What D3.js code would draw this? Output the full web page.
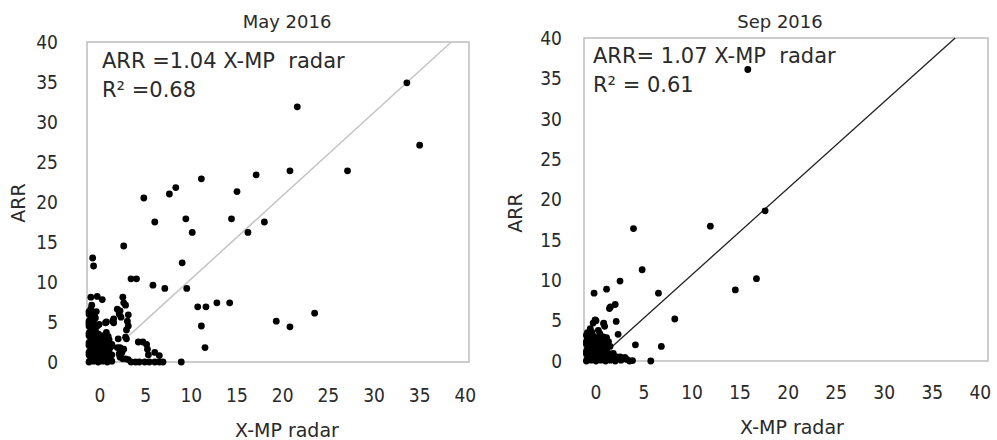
<!DOCTYPE html>
<html>
<head>
<meta charset="utf-8">
<script src="https://cdn.jsdelivr.net/npm/d3@7"></script>
<style>
  body { margin: 0; background: #fff; }
  svg text { font-family: "DejaVu Sans", sans-serif; fill: #2a2a2a; }
  svg text.tick { font-family: "DejaVu Sans Condensed", "DejaVu Sans", sans-serif; font-stretch: condensed; }
</style>
</head>
<body>
<script>
const ticks = [0, 5, 10, 15, 20, 25, 30, 35, 40];
const titles = ["May 2016", "Sep 2016"];
const eqLabels = ["ARR =1.04 X-MP  radar", "ARR= 1.07 X-MP  radar"];
const r2Labels = ["R\u00b2 =0.68", "R\u00b2 = 0.61"];
const slopes = [1.04, 1.07];
const fitStart = [3.2, 1.4];

const mayPoints = [
  [33.6, 34.9], [21.6, 31.9], [35.0, 27.1], [27.1, 23.9], [20.8, 23.9], [17.1, 23.4],
  [11.1, 22.9], [15.0, 21.3], [8.3, 21.8], [7.6, 21.0], [4.8, 20.5], [6.0, 17.5],
  [9.4, 17.9], [14.4, 17.9], [18.0, 17.5], [10.1, 16.2], [16.2, 16.2], [2.6, 14.5],
  [9.0, 12.4], [-0.8, 13.0], [-0.7, 12.0], [3.4, 10.4], [4.0, 10.4], [5.8, 9.6],
  [7.1, 9.2], [9.5, 9.2], [10.7, 6.9], [11.6, 6.9], [12.8, 7.4], [14.2, 7.4],
  [23.5, 6.1], [19.3, 5.1], [20.8, 4.4], [11.1, 4.5], [11.5, 1.8], [8.9, 0],
  [-1.0, 8.1], [-0.3, 8.2], [0.25, 7.8], [2.5, 8.1], [2.6, 7.4], [2.8, 7.1],
  [-0.9, 7.1], [2.2, 6.4], [1.9, 6.6], [2.1, 6.0], [3.1, 5.9], [2.3, 5.6],
  [1.5, 5.4], [1.5, 4.9], [1.4, 5.1], [0.7, 5.0], [0.6, 4.9], [3.0, 5.1],
  [3.1, 4.5], [2.9, 4.0], [0.7, 3.7], [0.9, 3.2], [2.0, 2.9], [2.9, 2.9],
  [2.8, 3.1], [4.2, 2.5], [4.7, 2.5], [5.1, 2.2], [5.2, 1.6], [5.3, 0.9],
  [6.0, 1.2], [6.5, 0.8], [2.2, 1.8], [1.9, 1.8], [2.6, 1.6], [1.1, 2.0],
  [2.4, 1.2], [2.1, 1.0], [2.2, 0.6], [2.5, 0.4], [2.8, 0.4], [3.1, 0.3],
  [3.4, 0], [3.9, 0], [4.3, 0], [4.9, 0], [5.4, 0], [6.0, 0], [6.5, 0], [6.9, 0],
  [-1.2, 0], [-0.7, 0.1], [-0.2, 0], [0.3, 0.1], [0.8, 0], [1.3, 0.1],
  [-1.0, 0.3], [-0.5, 0.3], [0.0, 0.4], [0.5, 0.3], [1.0, 0.3],
  [-1.0, 0.6], [-0.4, 0.7], [0.1, 0.5], [0.6, 0.6], [1.1, 0.7],
  [-1.2, 0.9], [-0.7, 0.9], [-0.2, 0.9], [0.3, 0.9], [0.8, 0.9], [1.3, 0.9],
  [-1.2, 1.2], [-0.7, 1.3], [-0.1, 1.1], [0.4, 1.2], [0.9, 1.3],
  [-1.0, 1.5], [-0.5, 1.5], [0.0, 1.5], [0.5, 1.5], [1.0, 1.5],
  [-1.0, 1.8], [-0.5, 1.9], [0.1, 1.7], [0.6, 1.8], [1.2, 1.9],
  [-1.2, 2.1], [-0.7, 2.1], [-0.2, 2.1], [0.3, 2.1], [0.8, 2.1], [1.3, 2.2],
  [-1.2, 2.4], [-0.7, 2.5], [-0.2, 2.3], [0.3, 2.4], [0.9, 2.5],
  [-1.0, 2.7], [-0.5, 2.7], [0.0, 2.7], [0.5, 2.7], [1.0, 2.8],
  [-1.0, 3.0], [-0.5, 3.1], [0.1, 2.9], [0.5, 3.0],
  [-1.2, 3.3], [-0.8, 3.3], [-0.3, 3.3], [0.2, 3.3],
  [-1.2, 3.6], [-0.7, 3.7], [-0.2, 3.5],
  [-1.0, 3.9], [-0.5, 3.9],
  [-1.0, 4.2], [-0.5, 4.3],
  [-1.2, 4.5], [-0.8, 4.5], [-0.3, 4.5],
  [-1.2, 4.8], [-0.7, 4.9], [-0.1, 4.7],
  [-1.2, 5.1], [-0.8, 5.1],
  [-1.0, 5.4], [-0.5, 5.5],
  [-1.0, 5.7], [-0.6, 5.7],
  [-1.2, 6.0], [-0.7, 6.1], [-1.2, 6.3], [-1.0, 6.6], [-0.4, 6.3]
];

const sepPoints = [
  [15.8, 36.1], [17.6, 18.6], [11.9, 16.7], [3.9, 16.4], [4.8, 11.3], [2.5, 9.9],
  [1.1, 8.9], [-0.2, 8.4], [6.5, 8.4], [14.5, 8.8], [16.7, 10.2], [2.0, 7.0],
  [1.5, 6.7], [1.4, 6.5], [8.2, 5.2], [2.1, 4.9], [0, 5.0], [0.8, 4.6],
  [2.3, 3.3], [4.1, 2.0], [6.8, 1.8], [5.7, 0], [3.8, 0.05], [3.2, 0.2],
  [3.0, 0.45], [2.5, 0.5], [-0.1, 5.1], [-0.3, 4.7], [0.8, 4.7], [0.9, 4.3],
  [-0.6, 4.0], [-0.45, 3.6], [0.24, 3.8], [0.4, 3.4], [0.76, 3.0], [0.94, 2.6],
  [1.1, 2.9], [1.3, 2.4], [1.46, 1.8], [1.8, 0.95], [2.15, 0.5], [3.5, 0], [2.6, 0.1],
  [-1.0, 0], [-0.5, 0.1], [0, 0], [0.5, 0.1], [1.0, 0], [1.5, 0.1], [2.0, 0],
  [-0.9, 0.3], [-0.4, 0.3], [0.1, 0.3], [0.6, 0.3], [1.1, 0.3], [1.6, 0.3],
  [-0.8, 0.6], [-0.3, 0.7], [0.2, 0.6], [0.7, 0.5], [1.2, 0.6],
  [-1.0, 0.9], [-0.5, 0.9], [0, 0.9], [0.5, 0.9], [1.0, 0.9], [1.4, 0.9],
  [-1.0, 1.2], [-0.5, 1.3], [0, 1.1], [0.5, 1.2], [1.0, 1.3],
  [-0.9, 1.5], [-0.4, 1.5], [0.1, 1.5], [0.6, 1.5], [1.1, 1.5],
  [-0.8, 1.8], [-0.3, 1.9], [0.2, 1.7], [0.7, 1.8], [1.1, 1.9],
  [-1.0, 2.1], [-0.5, 2.1], [0, 2.1], [0.5, 2.1], [0.9, 2.1],
  [-1.0, 2.4], [-0.5, 2.5], [0, 2.3], [0.5, 2.4],
  [-0.9, 2.7], [-0.4, 2.7], [0.1, 2.7], [0.5, 2.7],
  [-0.8, 3.0], [-0.3, 3.1], [0.2, 2.9], [-1.0, 3.2], [-0.5, 3.2], [-0.9, 3.5]
];

const panels = [
  { points: mayPoints, box: [87, 42, 469, 362], xDom: [-1.42, 40.4], yLabelX: 58, xLabelDy: 33,
    title: [287, 22], yTitle: [18, 203], xTitle: [287, 431], eq: [102, 68], lineColor: "#c4c4c4", lineW: 1.5 },
  { points: sepPoints, box: [584, 38, 988, 361], xDom: [-1.25, 40.8], yLabelX: 562, xLabelDy: 31,
    title: [780, 22], yTitle: [515, 213], xTitle: [792, 428], eq: [593, 63], lineColor: "#222", lineW: 1.3 }
];

const svg = d3.select("body").append("svg")
  .attr("width", 997)
  .attr("height", 440);

panels.forEach((p, i) => {
  const [x0, y0, x1, y1] = p.box;
  const x = d3.scaleLinear().domain(p.xDom).range([x0, x1]);
  const y = d3.scaleLinear().domain([0, 40]).range([y1, y0]);
  const g = svg.append("g");

  g.append("rect")
    .attr("x", x0).attr("y", y0)
    .attr("width", x1 - x0).attr("height", y1 - y0)
    .attr("fill", "none")
    .attr("stroke", "#bdbdbd")
    .attr("stroke-width", 1.5);

  g.selectAll(".ytick")
    .data(ticks)
    .join("text")
    .attr("class", "tick")
    .attr("x", p.yLabelX)
    .attr("y", d => y(d))
    .attr("dy", "0.36em")
    .attr("text-anchor", "end")
    .style("font-size", "19px")
    .text(d => d);

  g.selectAll(".xtick")
    .data(ticks)
    .join("text")
    .attr("class", "tick")
    .attr("x", d => x(d))
    .attr("y", y1 + p.xLabelDy)
    .attr("dy", "0.36em")
    .attr("text-anchor", "middle")
    .style("font-size", "19px")
    .text(d => d);

  // fit line through origin, clipped at top of the box
  const xEnd = 40 / slopes[i];
  g.append("line")
    .attr("x1", x(fitStart[i])).attr("y1", y(fitStart[i] * slopes[i]))
    .attr("x2", x(xEnd)).attr("y2", y(40))
    .attr("stroke", p.lineColor)
    .attr("stroke-width", p.lineW);

  g.selectAll("circle")
    .data(p.points)
    .join("circle")
    .attr("cx", d => x(d[0]))
    .attr("cy", d => y(d[1]))
    .attr("r", 3.4)
    .attr("fill", "#000");

  g.append("text")
    .attr("x", p.title[0]).attr("y", p.title[1])
    .attr("dy", "0.36em")
    .attr("text-anchor", "middle")
    .style("font-size", "18px")
    .text(titles[i]);

  g.append("text")
    .attr("transform", `translate(${p.yTitle[0]},${p.yTitle[1]}) rotate(-90)`)
    .attr("dy", "0.36em")
    .attr("text-anchor", "middle")
    .style("font-size", "19px")
    .text("ARR");

  g.append("text")
    .attr("x", p.xTitle[0]).attr("y", p.xTitle[1])
    .attr("dy", "0.34em")
    .attr("text-anchor", "middle")
    .style("font-size", "19px")
    .text("X-MP radar");

  g.append("text")
    .attr("x", p.eq[0]).attr("y", p.eq[1])
    .attr("xml:space", "preserve")
    .style("white-space", "pre")
    .style("font-size", "21px")
    .text(eqLabels[i]);

  g.append("text")
    .attr("x", p.eq[0]).attr("y", p.eq[1] + 29)
    .style("font-size", "21px")
    .text(r2Labels[i]);
});
</script>
</body>
</html>
